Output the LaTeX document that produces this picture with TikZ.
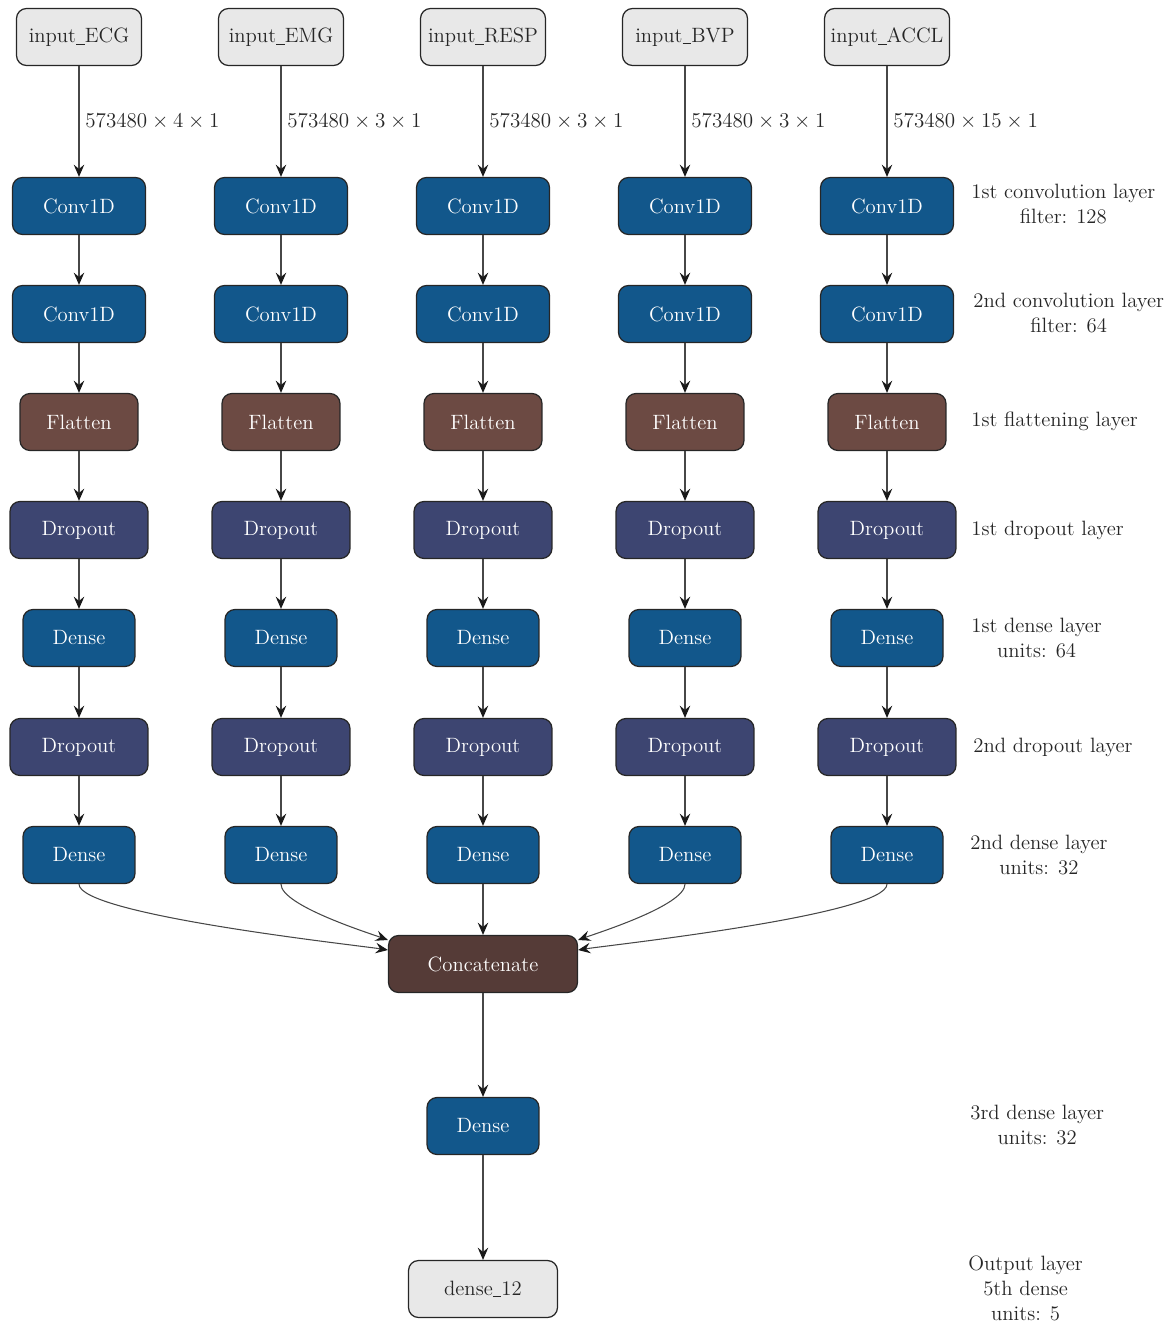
\documentclass[tikz,border=0pt]{standalone}
\usetikzlibrary{arrows.meta}
\definecolor{convblue}{HTML}{12578B}
\definecolor{dropblue}{HTML}{3D4571}
\definecolor{flatbrown}{HTML}{6C4A43}
\definecolor{catbrown}{HTML}{553B37}
\definecolor{ingray}{HTML}{E8E8E8}
\newcommand{\usc}{\rule[-0.1em]{0.42em}{0.45pt}}
\begin{document}
\begin{tikzpicture}[x=0.02cm,y=-0.02cm,
  every node/.style={font=\fontsize{11.8}{14.2}\selectfont, text=black!85},
  box/.style={draw=black!85, line width=0.7pt, rounded corners=0.2cm, minimum height=1.14cm, inner sep=0pt, text=white},
  inbox/.style={box, fill=ingray, text=black!85, minimum width=2.5cm},
  conv/.style={box, fill=convblue, minimum width=2.66cm},
  flat/.style={box, fill=flatbrown, minimum width=2.36cm},
  drop/.style={box, fill=dropblue, minimum width=2.76cm},
  dense/.style={box, fill=convblue, minimum width=2.24cm},
  arr/.style={-{Stealth[length=7pt,width=6pt,inset=2.5pt,color=black!90]}, draw=black!72, line width=0.6pt},
  note/.style={anchor=west, align=center, inner sep=0pt}]
\useasboundingbox (0,0) rectangle (1168,1322);

\foreach \n/\x/\s in {ECG/79/4, EMG/281/3, RESP/483/3, BVP/685/3, ACCL/887/15}{
  \node[inbox] (in\n) at (\x,37) {input\usc\n};
  \node[conv] (ca\n) at (\x,206) {Conv1D};
  \node[conv] (cb\n) at (\x,314) {Conv1D};
  \node[flat] (fl\n) at (\x,422) {Flatten};
  \node[drop] (da\n) at (\x,530) {Dropout};
  \node[dense] (ea\n) at (\x,638) {Dense};
  \node[drop] (db\n) at (\x,747) {Dropout};
  \node[dense] (eb\n) at (\x,855) {Dense};
  \draw[arr] (in\n) -- node[right] {$573480 \times \s \times 1$} (ca\n);
  \draw[arr] (ca\n) -- (cb\n);
  \draw[arr] (cb\n) -- (fl\n);
  \draw[arr] (fl\n) -- (da\n);
  \draw[arr] (da\n) -- (ea\n);
  \draw[arr] (ea\n) -- (db\n);
  \draw[arr] (db\n) -- (eb\n);
}

\node[box, fill=catbrown, minimum width=3.78cm] (concat) at (483,964) {Concatenate};
\node[dense] (final) at (483,1126) {Dense};
\node[inbox, minimum width=2.98cm] (output) at (483,1289) {dense\usc 12};

% branches into the merge
\draw[arr] (ebECG.south) to[out=-90,in=171,looseness=0.25] ([yshift=0.28cm]concat.west);
\draw[arr] (ebEMG.south) to[out=-90,in=160,looseness=0.45] ([yshift=0.48cm]concat.west);
\draw[arr] (ebRESP) -- (concat);
\draw[arr] (ebBVP.south) to[out=-90,in=20,looseness=0.45] ([yshift=0.48cm]concat.east);
\draw[arr] (ebACCL.south) to[out=-90,in=9,looseness=0.25] ([yshift=0.28cm]concat.east);
\draw[arr] (concat) -- (final);
\draw[arr] (final) -- (output);

% layer notes
\node[note] (nconva) at (971,204) {1st convolution layer\\filter: 128};
\node[note] (nconvb) at (973,313) {2nd convolution layer\\filter: 64};
\node[note] (nflat) at (971,421) {1st flattening layer};
\node[note] (ndropa) at (971,530) {1st dropout layer};
\node[note] (ndensea) at (971,638) {1st dense layer\\units: 64};
\node[note] (ndropb) at (973,747) {2nd dropout layer};
\node[note] (ndenseb) at (970,855) {2nd dense layer\\units: 32};
\node[note] (ndensec) at (970,1125) {3rd dense layer\\units: 32};
\node[note] (nout) at (968,1288) {Output layer\\5th dense\\units: 5};
\end{tikzpicture}
\end{document}
